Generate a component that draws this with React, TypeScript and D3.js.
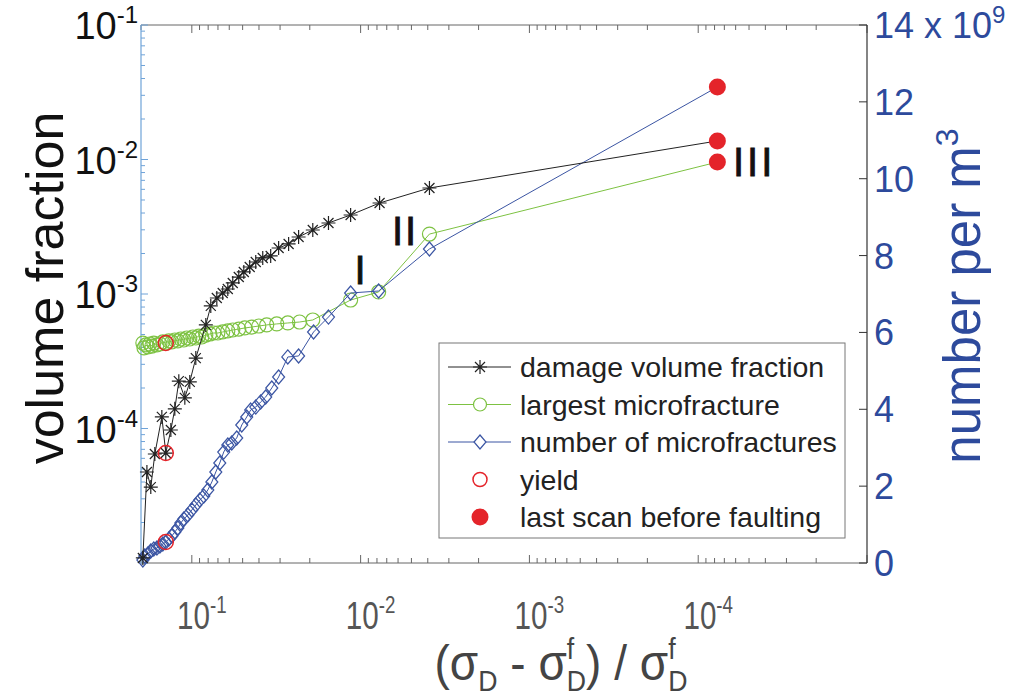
import React from 'react';
import * as d3 from 'd3';

// x: (sigma_D - sigma_D^f) / sigma_D^f, decreasing toward failure
const damageX = [0.195, 0.1845, 0.175, 0.1656, 0.1505, 0.1426, 0.1331, 0.1261, 0.1194, 0.11, 0.1028, 0.0947, 0.0826, 0.0772, 0.0711, 0.0656, 0.0612, 0.0572, 0.0527, 0.0492, 0.0454, 0.0418, 0.038, 0.0341, 0.0306, 0.0267, 0.0233, 0.0192, 0.0155, 0.01146, 0.00772, 0.00391, 7.7e-5];
const damageY = [1.09e-5, 4.75e-5, 3.67e-5, 6.46e-5, 1.22e-4, 6.57e-5, 9.75e-5, 1.4e-4, 2.25e-4, 1.69e-4, 2.22e-4, 3.34e-4, 5.89e-4, 8.15e-4, 9.34e-4, 1.017e-3, 1.089e-3, 1.208e-3, 1.337e-3, 1.458e-3, 1.588e-3, 1.73e-3, 1.853e-3, 1.918e-3, 2.198e-3, 2.355e-3, 2.654e-3, 2.992e-3, 3.373e-3, 3.867e-3, 4.75e-3, 6.14e-3, 1.374e-2];

const largestX = [0.195, 0.192, 0.187, 0.182, 0.1774, 0.1725, 0.168, 0.161, 0.1545, 0.1485, 0.1426, 0.1368, 0.1313, 0.1261, 0.121, 0.1162, 0.1115, 0.1071, 0.1028, 0.0986, 0.0947, 0.091, 0.0873, 0.0826, 0.0782, 0.0741, 0.0701, 0.0656, 0.0612, 0.0572, 0.0527, 0.0485, 0.0442, 0.0401, 0.036, 0.0314, 0.027, 0.023, 0.0192, 0.01146, 0.00782, 0.00391, 7.7e-5];
const largestY = [4.32e-4, 3.97e-4, 4.18e-4, 4.04e-4, 4.25e-4, 4.1e-4, 4.32e-4, 4.18e-4, 4.25e-4, 4.4e-4, 4.32e-4, 4.48e-4, 4.4e-4, 4.55e-4, 4.48e-4, 4.63e-4, 4.55e-4, 4.71e-4, 4.63e-4, 4.79e-4, 4.71e-4, 4.87e-4, 4.79e-4, 4.95e-4, 5.04e-4, 5.13e-4, 5.13e-4, 5.22e-4, 5.31e-4, 5.4e-4, 5.49e-4, 5.59e-4, 5.68e-4, 5.78e-4, 5.89e-4, 5.99e-4, 6.09e-4, 6.19e-4, 6.41e-4, 9.02e-4, 1.035e-3, 2.79e-3, 9.57e-3];

// number of microfractures, x 10^9 per m^3 (right axis)
const numberX = [0.195, 0.19, 0.182, 0.175, 0.168, 0.161, 0.1545, 0.1485, 0.1426, 0.1368, 0.1313, 0.1261, 0.121, 0.1162, 0.1115, 0.1056, 0.1, 0.0947, 0.0897, 0.0849, 0.0804, 0.0761, 0.0721, 0.0683, 0.0647, 0.0612, 0.058, 0.0542, 0.0506, 0.0473, 0.0448, 0.0418, 0.0391, 0.0365, 0.0336, 0.0306, 0.027, 0.0233, 0.019, 0.0155, 0.01146, 0.00782, 0.00391, 7.7e-5];
const numberY = [0.078, 0.182, 0.234, 0.312, 0.364, 0.39, 0.442, 0.494, 0.546, 0.625, 0.703, 0.807, 0.911, 1.041, 1.145, 1.249, 1.379, 1.509, 1.639, 1.743, 1.9, 2.108, 2.368, 2.602, 2.888, 3.071, 3.123, 3.253, 3.591, 3.799, 3.981, 4.059, 4.19, 4.32, 4.554, 4.84, 5.361, 5.387, 6.011, 6.401, 7.026, 7.078, 8.171, 12.387];

const yieldX = 0.1426;
const rightTicks = [0, 2, 4, 6, 8, 10, 12, 14];
const leftLabels = [1e-1, 1e-2, 1e-3, 1e-4];
const bottomLabels = [1e-1, 1e-2, 1e-3, 1e-4];
const legendItems = ['damage volume fraction', 'largest microfracture', 'number of microfractures', 'yield', 'last scan before faulting'];

const plot = { left: 141, right: 867, top: 25, bottom: 563 };
const BLACK = '#222';
const GREEN = '#7dc242';
const BLUE = '#3b55a3';
const RED = '#e4242a';
const AXBLUE = '#2d4a9c';

const star = 'M-7,0L7,0M0,-7L0,7M-5,-5L5,5M-5,5L5,-5';
const diamond = 'M0,-7L6,0L0,7L-6,0Z';

const isMajor = (t: number) => Math.abs(Math.log10(t) - Math.round(Math.log10(t))) < 1e-6;
const expOf = (t: number) => String(Math.round(Math.log10(t)));

export default function App() {
  const x = d3.scaleLog().domain([0.2, 1e-5]).range([plot.left, plot.right]);
  const yL = d3.scaleLog().domain([1e-5, 1e-1]).range([plot.bottom, plot.top]);
  const yR = d3.scaleLinear().domain([0, 14]).range([plot.bottom, plot.top]);

  const lineL = d3.line<[number, number]>().x(d => x(d[0])).y(d => yL(d[1]));
  const lineR = d3.line<[number, number]>().x(d => x(d[0])).y(d => yR(d[1]));

  const damage = damageX.map((v, i) => [v, damageY[i]] as [number, number]);
  const largest = largestX.map((v, i) => [v, largestY[i]] as [number, number]);
  const number = numberX.map((v, i) => [v, numberY[i]] as [number, number]);

  const xTicks = x.ticks();
  const yTicks = yL.ticks();

  const last = (a: [number, number][]) => a[a.length - 1];
  const atYield = (a: [number, number][]) => a.find(d => d[0] === yieldX)!;

  const sans = "'Liberation Sans', Arial, sans-serif";

  const legX = 439, legY = 343, legW = 406, legH = 195;
  const rowY = (i: number) => legY + 24 + i * 37.5;

  return (
    <svg width={1029} height={700} style={{ position: 'absolute', left: 0, top: 0, background: '#fff' }}>
      {/* box axes */}
      <g>
        {xTicks.map((t, i) => {
          const len = isMajor(t) ? 8 : 5;
          return (
            <g key={'xt' + i} stroke="#666" strokeWidth={1}>
              <line x1={x(t)} x2={x(t)} y1={plot.bottom} y2={plot.bottom - len} />
              <line x1={x(t)} x2={x(t)} y1={plot.top} y2={plot.top + len} />
            </g>
          );
        })}
        <line x1={plot.left} x2={plot.right} y1={plot.top} y2={plot.top} stroke="#666" />
        <line x1={plot.left} x2={plot.right} y1={plot.bottom} y2={plot.bottom} stroke="#666" />
        {yTicks.map((t, i) => (
          <line key={'yt' + i} x1={plot.left} x2={plot.left + (isMajor(t) ? 7 : 4)} y1={yL(t)} y2={yL(t)} stroke="#6fa3d8" />
        ))}
        <line x1={plot.left} x2={plot.left} y1={plot.top} y2={plot.bottom} stroke="#6fa3d8" strokeWidth={1.2} />
        {rightTicks.map(t => (
          <line key={'rt' + t} x1={plot.right} x2={plot.right - 8} y1={yR(t)} y2={yR(t)} stroke="#333" />
        ))}
        <line x1={plot.right} x2={plot.right} y1={plot.top} y2={plot.bottom} stroke="#333" strokeWidth={1.2} />
      </g>

      {/* series */}
      <path d={lineL(largest)!} fill="none" stroke={GREEN} strokeWidth={1} />
      {largest.slice(0, -1).map((d, i) => (
        <circle key={'g' + i} cx={x(d[0])} cy={yL(d[1])} r={7} fill="none" stroke={GREEN} strokeWidth={1.2} />
      ))}
      <path d={lineR(number)!} fill="none" stroke={BLUE} strokeWidth={1} />
      {number.slice(0, -1).map((d, i) => (
        <path key={'b' + i} d={diamond} transform={`translate(${x(d[0])},${yR(d[1])})`} fill="none" stroke={BLUE} strokeWidth={1.2} />
      ))}
      <path d={lineL(damage)!} fill="none" stroke={BLACK} strokeWidth={1} />
      {damage.slice(0, -1).map((d, i) => (
        <path key={'k' + i} d={star} transform={`translate(${x(d[0])},${yL(d[1])})`} stroke={BLACK} strokeWidth={1.2} />
      ))}

      {/* yield */}
      {[atYield(damage), atYield(largest)].map((d, i) => (
        <circle key={'y' + i} cx={x(d[0])} cy={yL(d[1])} r={7.5} fill="none" stroke={RED} strokeWidth={1.5} />
      ))}
      <circle cx={x(atYield(number)[0])} cy={yR(atYield(number)[1])} r={7.5} fill="none" stroke={RED} strokeWidth={1.5} />

      {/* last scan */}
      <circle cx={x(last(damage)[0])} cy={yL(last(damage)[1])} r={8.5} fill={RED} />
      <circle cx={x(last(largest)[0])} cy={yL(last(largest)[1])} r={8.5} fill={RED} />
      <circle cx={x(last(number)[0])} cy={yR(last(number)[1])} r={8.5} fill={RED} />

      {/* stage labels */}
      <g fontFamily={sans} fontSize={40} fill="#111" stroke="#111" strokeWidth={0.8}>
        <text x={360} y={284} textAnchor="middle">I</text>
        <text x={405} y={245} textAnchor="middle" letterSpacing={2}>II</text>
        <text x={733} y={176} letterSpacing={3}>III</text>
      </g>

      {/* legend */}
      <rect x={legX} y={legY} width={legW} height={legH} fill="#fff" stroke="#777" strokeWidth={1} />
      {legendItems.map((name, i) => {
        const cy = rowY(i);
        const mx = legX + 41;
        return (
          <g key={'l' + i}>
            {i === 0 && <><line x1={legX + 9} x2={legX + 72} y1={cy} y2={cy} stroke={BLACK} /><path d={star} transform={`translate(${mx},${cy})`} stroke={BLACK} strokeWidth={1.2} /></>}
            {i === 1 && <><line x1={legX + 9} x2={legX + 72} y1={cy} y2={cy} stroke={GREEN} /><circle cx={mx} cy={cy} r={6.5} fill="#fff" stroke={GREEN} strokeWidth={1.2} /></>}
            {i === 2 && <><line x1={legX + 9} x2={legX + 72} y1={cy} y2={cy} stroke={BLUE} /><path d={diamond} transform={`translate(${mx},${cy})`} fill="#fff" stroke={BLUE} strokeWidth={1.2} /></>}
            {i === 3 && <circle cx={mx} cy={cy} r={7} fill="none" stroke={RED} strokeWidth={1.5} />}
            {i === 4 && <circle cx={mx} cy={cy} r={8.5} fill={RED} />}
            <text x={legX + 81} y={cy + 10} fontFamily={sans} fontSize={28.5} fill="#222">{name}</text>
          </g>
        );
      })}

      {/* left tick labels */}
      {leftLabels.map(t => (
        <text key={'ll' + t} x={138} y={yL(t) + 14} textAnchor="end" fontFamily={sans} fontSize={38} fill="#111">
          10<tspan fontSize={24} dy={-16}>{expOf(t)}</tspan>
        </text>
      ))}

      {/* right tick labels */}
      {rightTicks.map(t => (
        <text key={'rl' + t} x={874} y={yR(t) + 13} fontFamily={sans} fontSize={36} fill={AXBLUE}>
          {t === 14 ? <>14 x 10<tspan fontSize={24} dy={-15}>9</tspan></> : String(t)}
        </text>
      ))}

      {/* bottom tick labels (condensed) */}
      {bottomLabels.map(t => (
        <g key={'bl' + t} transform={`translate(${x(t) + 10},629) scale(0.78,1)`}>
          <text x={0} y={0} textAnchor="middle" fontFamily={sans} fontSize={38} fill="#555">
            10<tspan fontSize={24} dy={-16}>{expOf(t)}</tspan>
          </text>
        </g>
      ))}

      {/* axis titles */}
      <text transform="translate(63,288) rotate(-90)" textAnchor="middle" fontFamily={sans} fontSize={52} fill="#111">volume fraction</text>
      <text transform="translate(980,296) rotate(-90)" textAnchor="middle" fontFamily={sans} fontSize={51} fill={AXBLUE}>
        number per m<tspan fontSize={32} dy={-22}>3</tspan>
      </text>
      <g transform="translate(561,680) scale(0.92,1)">
        <text x={0} y={0} textAnchor="middle" fontFamily={sans} fontSize={50} fill="#444">
          (σ<tspan fontSize={29} dy={11}>D</tspan>
          <tspan dy={-11}> - σ</tspan>
          <tspan fontSize={29} dy={-21}>f</tspan>
          <tspan fontSize={29} dx={-8} dy={32}>D</tspan>
          <tspan dy={-11}>) / σ</tspan>
          <tspan fontSize={29} dy={-21}>f</tspan>
          <tspan fontSize={29} dx={-8} dy={32}>D</tspan>
        </text>
      </g>
    </svg>
  );
}
